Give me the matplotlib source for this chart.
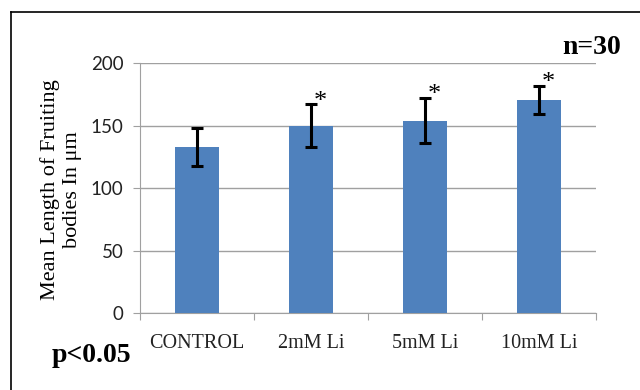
import matplotlib
matplotlib.use("Agg")
import matplotlib.pyplot as plt
from matplotlib.lines import Line2D

categories = ["CONTROL", "2mM Li", "5mM Li", "10mM Li"]
means = [133, 150, 154, 170.5]
errors = [15.5, 17, 18, 11.5]
significant = [False, True, True, True]
yticks = [0, 50, 100, 150, 200]

fig = plt.figure(figsize=(6.4, 3.9), dpi=100)
ax = fig.add_axes([0.219, 0.197, 0.712, 0.641])

x = list(range(len(categories)))
ax.bar(x, means, width=0.39, color="#4F81BD", zorder=3)
ax.errorbar(x, means, yerr=errors, fmt="none", ecolor="black",
            elinewidth=2.2, capsize=4.5, capthick=2.2, zorder=4)
for xi, m, e, s in zip(x, means, errors, significant):
    if s:
        ax.annotate("*", xy=(xi, m + e), xytext=(7, 2), textcoords="offset points",
                    ha="center", va="center", fontsize=19,
                    family="Liberation Serif", zorder=5)

ax.set_xlim(-0.5, len(categories) - 0.5)
ax.set_ylim(0, 200)
ax.set_yticks(yticks)
ax.set_yticklabels([str(t) for t in yticks], family="Lato", fontsize=13.5, color="#222222")
ax.yaxis.grid(True, color="#A0A0A0", linewidth=1, zorder=0)
ax.set_axisbelow(True)

ax.set_xticks([i - 0.5 for i in range(len(categories) + 1)])
ax.set_xticklabels([])
ax.set_xticks(x, minor=True)
ax.set_xticklabels(categories, minor=True, family="Liberation Serif", fontsize=14.5, color="#222222")
ax.tick_params(axis="x", which="major", length=5, color="#A0A0A0", direction="out")
ax.tick_params(axis="x", which="minor", length=0, pad=15)
ax.tick_params(axis="y", length=5, color="#A0A0A0", pad=7)

for side in ["top", "right"]:
    ax.spines[side].set_visible(False)
ax.spines["left"].set_color("#A0A0A0")
ax.spines["bottom"].set_color("#A0A0A0")

fig.text(61 / 640, 1 - 190 / 390, "Mean Length of Fruiting\nbodies In μm",
         family="Liberation Serif", fontsize=16, rotation=90, ha="center", va="center",
         multialignment="center", linespacing=1.2)

fig.text(0.97, 0.877, "n=30", ha="right", va="center", family="Liberation Serif",
         fontsize=20, fontweight="bold")
fig.text(0.081, 0.088, "p<0.05", ha="left", va="center", family="Liberation Serif",
         fontsize=20, fontweight="bold")

fig.add_artist(Line2D([0.0167, 1.01], [0.97, 0.97], transform=fig.transFigure, color="black", linewidth=1.2))
fig.add_artist(Line2D([0.0167, 0.0167], [0.97, -0.01], transform=fig.transFigure, color="black", linewidth=1.2))

fig.savefig("out.png", dpi=100)
